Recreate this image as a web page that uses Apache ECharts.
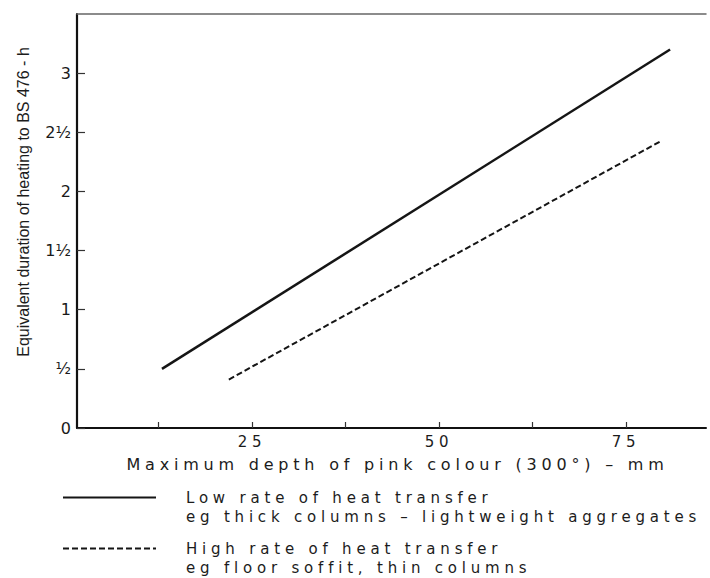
<!DOCTYPE html>
<html><head><meta charset="utf-8">
<script src="https://cdn.jsdelivr.net/npm/echarts@6/dist/echarts.min.js"></script>
<style>
html,body{margin:0;padding:0;background:#fff;}
#chart{width:710px;height:578px;}
#chart text[style*="Verdana"]{letter-spacing:4.8px;}
</style></head><body><div id="chart"></div>
<script>
const lowRateDepth = [12.96, 80.9];
const lowRateHours = [0.5, 3.2];
const highRateDepth = [21.9, 79.5];
const highRateHours = [0.41, 2.42];
const seriesNames = ['Low rate of heat transfer', 'High rate of heat transfer'];
const seriesNotes = ['eg thick columns \u2013 lightweight aggregates', 'eg floor soffit, thin columns'];
const xTickValues = [12.5, 25, 37.5, 50, 62.5, 75];
const xLabelValues = [25, 50, 75];
const yTickValues = [0, 0.5, 1, 1.5, 2, 2.5, 3];
const yTickLabels = ['0', '\u00bd', '1', '1\u00bd', '2', '2\u00bd', '3'];
const xAxisName = 'Maximum depth of pink colour (300\u00b0) \u2013 mm';
const yAxisName = 'Equivalent duration of heating to BS 476 - h';

const SPACED = 'Verdana, DejaVu Sans';
const PLAIN = 'DejaVu Sans';
const X_MIN = 1.6, X_MAX = 85.7;

const chart = echarts.init(document.getElementById('chart'), null, {renderer: 'svg'});
chart.setOption({
  backgroundColor: '#fff',
  animation: false,
  grid: {left: 77, right: 4, top: 14, bottom: 150},
  legend: {
    data: seriesNames,
    orient: 'vertical',
    left: 62, top: 469,
    itemWidth: 93, itemHeight: 14, itemGap: -6,
    padding: 0,
    selectedMode: false,
    itemStyle: {opacity: 0},
    formatter: function (name) { return '\n' + name + '\n' + seriesNotes[seriesNames.indexOf(name)]; },
    textStyle: {fontFamily: SPACED, fontSize: 15, color: '#1c1c1c', lineHeight: 19, padding: [0, 0, 0, 25]}
  },
  xAxis: [{
    type: 'value', min: X_MIN, max: X_MAX, position: 'bottom',
    axisLine: {show: true, onZero: false, lineStyle: {color: '#111', width: 2}},
    axisTick: {show: true, inside: true, length: 6, customValues: xTickValues, lineStyle: {color: '#333', width: 1.2}},
    axisLabel: {customValues: xLabelValues, margin: 6, fontFamily: SPACED, fontSize: 15, color: '#1c1c1c',
      formatter: function (v) { return String(v); }},
    splitLine: {show: false},
    name: xAxisName, nameLocation: 'middle', nameGap: 28,
    nameTextStyle: {fontFamily: SPACED, fontSize: 16, color: '#1c1c1c', padding: [0, 0, 0, 12]}
  }, {
    type: 'value', min: X_MIN, max: X_MAX, position: 'top',
    axisLine: {show: true, onZero: false, lineStyle: {color: '#666', width: 1.5}},
    axisTick: {show: false}, axisLabel: {show: false}, splitLine: {show: false}
  }],
  yAxis: {
    type: 'value', min: 0, max: 3.5,
    axisLine: {show: true, onZero: false, lineStyle: {color: '#111', width: 2.2}},
    axisTick: {show: true, inside: true, length: 8, customValues: yTickValues, lineStyle: {color: '#333', width: 1.2}},
    axisLabel: {customValues: yTickValues, margin: 6, fontFamily: PLAIN, fontSize: 16, color: '#1a1a1a',
      formatter: function (v) { const i = yTickValues.indexOf(v); return i >= 0 ? yTickLabels[i] : ''; }},
    splitLine: {show: false},
    name: yAxisName, nameLocation: 'middle', nameGap: 46,
    nameTextStyle: {fontFamily: 'Liberation Sans', fontSize: 16, color: '#1c1c1c', padding: [0, 0, 0, 38]}
  },
  series: [{
    name: seriesNames[0], type: 'line', xAxisIndex: 0, symbol: 'none',
    data: lowRateDepth.map((d, i) => [d, lowRateHours[i]]),
    lineStyle: {color: '#151515', width: 2.5, type: 'solid'}
  }, {
    name: seriesNames[1], type: 'line', xAxisIndex: 0, symbol: 'none',
    data: highRateDepth.map((d, i) => [d, highRateHours[i]]),
    lineStyle: {color: '#151515', width: 2, type: [6, 3]}
  }]
});
</script></body></html>
